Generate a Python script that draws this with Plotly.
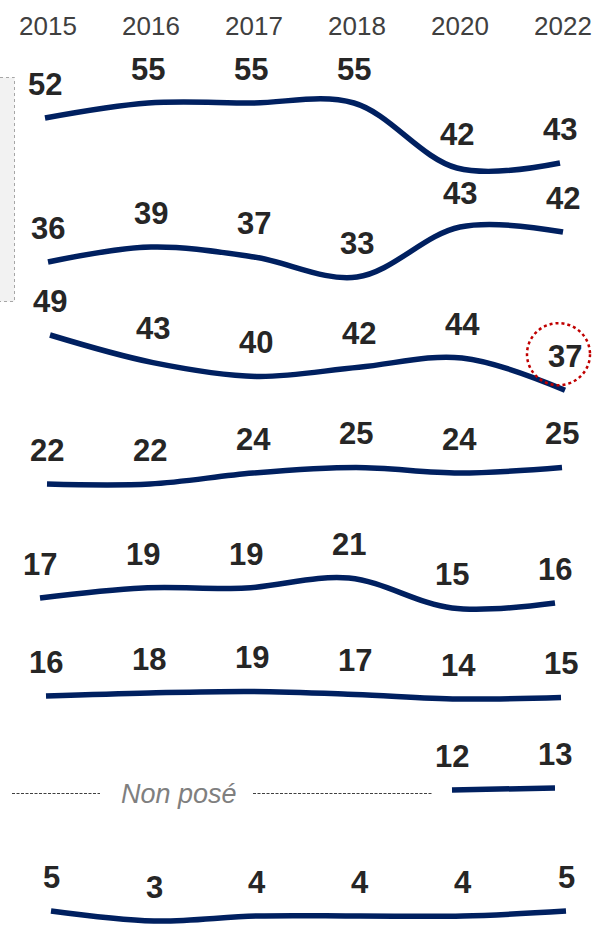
import plotly.graph_objects as go

# ---------------- data ----------------
years = ["2015", "2016", "2017", "2018", "2020", "2022"]
row1 = [52, 55, 55, 55, 42, 43]
row2 = [36, 39, 37, 33, 43, 42]
row3 = [49, 43, 40, 42, 44, 37]
row4 = [22, 22, 24, 25, 24, 25]
row5 = [17, 19, 19, 21, 15, 16]
row6 = [16, 18, 19, 17, 14, 15]
row7 = [None, None, None, None, 12, 13]
row8 = [5, 3, 4, 4, 4, 5]
rows = [row1, row2, row3, row4, row5, row6, row7, row8]
not_asked_label = "Non posé"
highlight = (2, 5)  # (row index, year index) circled

# ---------------- layout constants ----------------
W, H = 602, 930
X0_PX, X_STEP = 48, 103
# per row: (reference value, pixel y of that value, pixels per unit, x offset px)
row_scale = [(55, 103, 5, -3), (36, 262, 5, 0), (49, 335, 4.6, 2), (22, 484, 5.5, -1),
             (17, 598, 5, -8), (16, 696, 1.5, -2), (12, 790, 2, -8), (5, 911, 5, 3)]
NAVY = "#002060"
FONT = "Liberation Sans, Arial, sans-serif"


def px_x(p):
    return p / W


def px_y(p):
    return 1 - p / H


fig = go.Figure()
layout_axes = {}
annotations = []

for i, vals in enumerate(rows):
    sfx = "" if i == 0 else str(i + 1)
    v_ref, p_ref, s, xoff = row_scale[i]
    yax = dict(domain=[0, 1], range=[v_ref - (H - p_ref) / s, v_ref + p_ref / s],
               visible=False, fixedrange=True, anchor="x" + sfx)
    xax = dict(domain=[0, 1], type="category", visible=False, fixedrange=True,
               range=[(-X0_PX - xoff) / X_STEP, (W - X0_PX - xoff) / X_STEP],
               anchor="y" + sfx)
    if i > 0:
        yax["overlaying"] = "y"
        xax["overlaying"] = "x"
    layout_axes["yaxis" + sfx] = yax
    layout_axes["xaxis" + sfx] = xax
    fig.add_trace(go.Scatter(
        x=years, y=vals, mode="lines", xaxis="x" + sfx, yaxis="y" + sfx, hoverinfo="skip",
        line=dict(color=NAVY, width=5.5, shape="spline", smoothing=1),
        showlegend=False))
    for j, v in enumerate(vals):
        if v is None:
            continue
        annotations.append(dict(
            x=j, y=v, xref="x" + sfx, yref="y" + sfx, text=f"<b>{v}</b>", showarrow=False,
            yshift=34, font=dict(size=31, color="#262626", family=FONT)))

# year headers
for j, yr in enumerate(years):
    annotations.append(dict(
        x=j, y=px_y(26), xref="x2", yref="paper", text=yr, showarrow=False,
        yanchor="middle", font=dict(size=26, color="#404040", family=FONT)))

# "Non posé" text
annotations.append(dict(
    x=px_x(179), y=px_y(794), xref="paper", yref="paper", text=f"<i>{not_asked_label}</i>",
    showarrow=False, xanchor="center", yanchor="middle",
    font=dict(size=27, color="#7f7f7f", family=FONT)))

shapes = [
    # grey panel cut at left edge
    dict(type="rect", xref="paper", yref="paper", x0=px_x(-2), x1=px_x(14.5),
         y0=px_y(301.5), y1=px_y(77.5), fillcolor="#f2f2f2",
         line=dict(color="#a6a6a6", width=1, dash="dot"), layer="below"),
    # dashed placeholder lines
    dict(type="line", xref="paper", yref="paper", x0=px_x(12), x1=px_x(100),
         y0=px_y(793.5), y1=px_y(793.5), line=dict(color="#404040", width=1, dash="3px,1.5px")),
    dict(type="line", xref="paper", yref="paper", x0=px_x(253), x1=px_x(432),
         y0=px_y(793.5), y1=px_y(793.5), line=dict(color="#404040", width=1, dash="3px,1.5px")),
]
hr, hc = highlight
hsfx = str(hr + 1)
shapes.append(dict(
    type="circle", xref="x" + hsfx, yref="y" + hsfx, xsizemode="pixel", ysizemode="pixel",
    xanchor=hc, yanchor=rows[hr][hc], x0=-38, x1=25, y0=5, y1=67,
    line=dict(color="#c00000", width=2.5, dash="dot")))

fig.update_layout(
    width=W, height=H, margin=dict(l=0, r=0, t=0, b=0),
    paper_bgcolor="white", plot_bgcolor="white",
    annotations=annotations, shapes=shapes, **layout_axes)

fig.write_html("out.html", config={"displayModeBar": False},
               post_script="document.body.style.margin='0';document.body.style.overflow='hidden';")
